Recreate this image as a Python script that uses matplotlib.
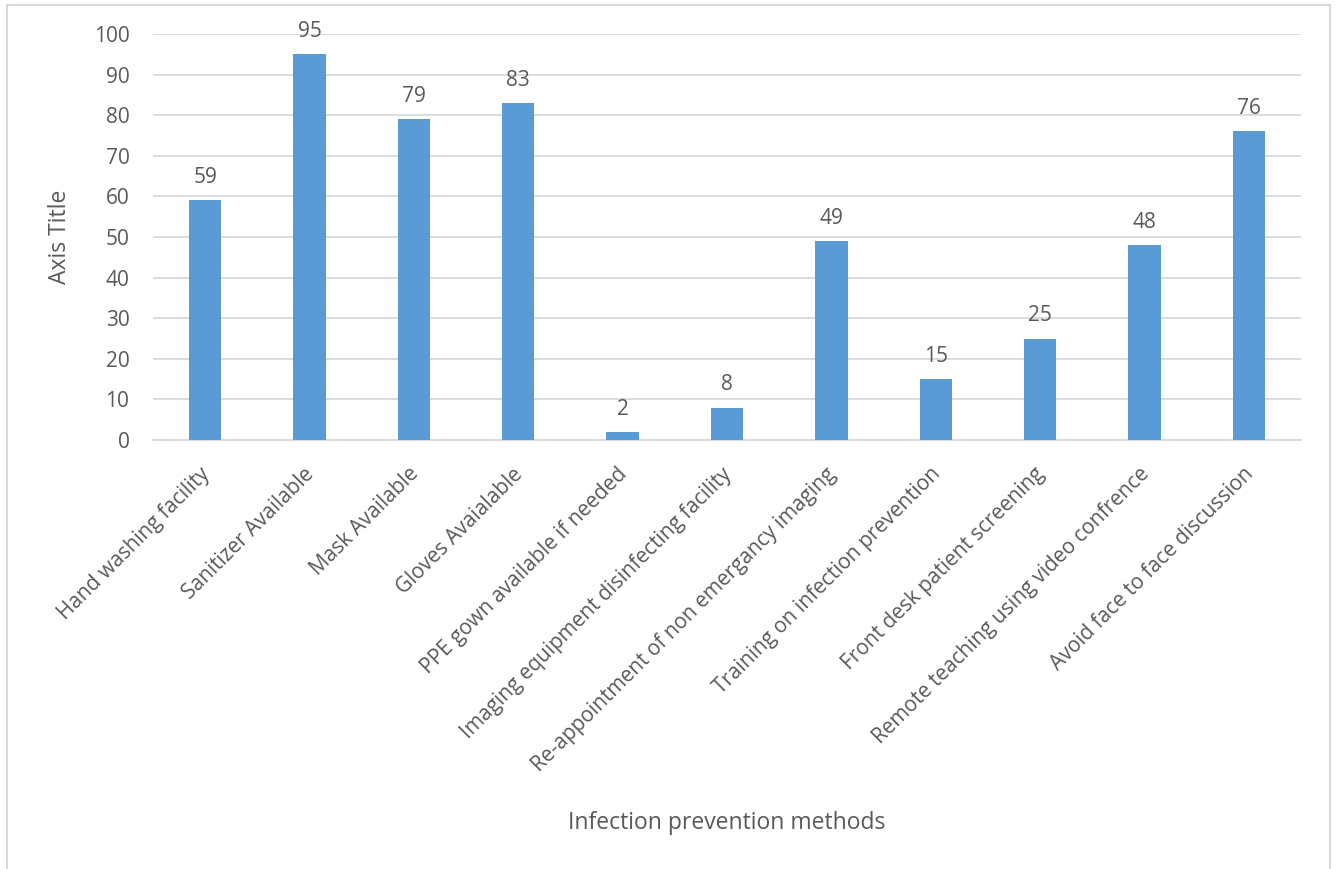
import matplotlib.pyplot as plt
import matplotlib.transforms as mtransforms
from matplotlib.patches import Rectangle

categories = [
    "Hand washing facility",
    "Sanitizer Available",
    "Mask Available",
    "Gloves Avaialable",
    "PPE gown available if needed",
    "Imaging equipment disinfecting facility",
    "Re-appointment of non emergancy imaging",
    "Training on infection prevention",
    "Front desk patient screening",
    "Remote teaching using video confrence",
    "Avoid face to face discussion",
]
values = [59, 95, 79, 83, 2, 8, 49, 15, 25, 48, 76]
y_ticks = [0, 10, 20, 30, 40, 50, 60, 70, 80, 90, 100]

plt.rcParams['font.family'] = ['Open Sans', 'DejaVu Sans']
TEXT = '#595959'
GRID = '#D9D9D9'
BAR = '#5B9BD5'

W, H = 1336, 869
fig = plt.figure(figsize=(W / 100, H / 100), dpi=100)

# chart area border
fig.patches.append(Rectangle((7 / W, -0.01), (1330 - 7) / W, (H - 5) / H + 0.01,
                             transform=fig.transFigure, fill=False,
                             edgecolor=GRID, linewidth=1.5))

left, right, top, bottom = 153, 1301, 34, 440
ax = fig.add_axes([left / W, 1 - bottom / H, (right - left) / W, (bottom - top) / H])

x = list(range(len(categories)))
bars = ax.bar(x, values, width=0.31, color=BAR, zorder=3)
for xi, v in zip(x, values):
    ax.text(xi, v + 3, str(v), ha='center', va='bottom', fontsize=15, color=TEXT)

ax.set_xlim(-0.5, len(categories) - 0.5)
ax.set_ylim(0, 100)
ax.set_yticks(y_ticks)
ax.yaxis.grid(True, color=GRID, linewidth=1.3, zorder=0)
ax.tick_params(axis='y', length=0, labelsize=15, labelcolor=TEXT, pad=17)
ax.tick_params(axis='x', length=0, labelsize=15, labelcolor=TEXT, pad=17)
ax.set_xticks(x)
ax.set_xticklabels(categories, rotation=45, ha='right', rotation_mode='anchor')
shift = mtransforms.ScaledTranslation(-6 / 100, 0, fig.dpi_scale_trans)
for lbl in ax.get_xticklabels():
    lbl.set_transform(lbl.get_transform() + shift)
for s in ['top', 'right', 'left']:
    ax.spines[s].set_visible(False)
ax.spines['bottom'].set_color(GRID)
ax.spines['bottom'].set_linewidth(1.3)

fig.text(60 / W, 1 - 237 / H, 'Axis Title', rotation=90, ha='center', va='center',
         fontsize=16.5, color=TEXT)
fig.text(727 / W, 1 - 823 / H, 'Infection prevention methods', ha='center', va='center',
         fontsize=16.5, color=TEXT)

fig.savefig('out.png', dpi=100)
